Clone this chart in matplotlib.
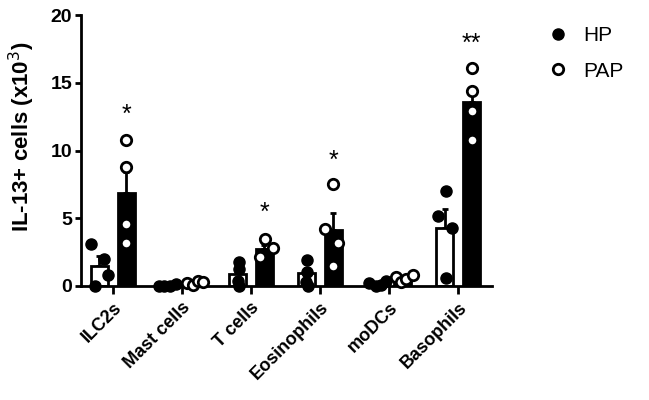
import numpy as np
import matplotlib.pyplot as plt

plt.rcParams['font.family'] = ['Liberation Sans', 'DejaVu Sans']

# Data (values in thousands of cells)
cell_types = ['ILC2s', 'Mast cells', 'T cells', 'Eosinophils', 'moDCs', 'Basophils']

hp_points = [
    [3.1, 0.0, 2.0, 0.8],
    [0.0, 0.0, 0.0, 0.15],
    [1.75, 1.25, 0.4, 0.0],
    [1.9, 1.0, 0.3, 0.0],
    [0.2, 0.0, 0.1, 0.35],
    [7.0, 5.2, 4.3, 0.6],
]
pap_points = [
    [10.8, 8.8, 4.6, 3.2],
    [0.2, 0.1, 0.35, 0.3],
    [3.5, 2.8, 2.15],
    [7.5, 4.2, 3.2, 1.5],
    [0.7, 0.3, 0.55, 0.8],
    [16.1, 14.4, 12.9, 10.8],
]
hp_mean = [1.5, 0.04, 0.85, 0.95, 0.15, 4.3]
hp_sem = [0.7, 0.04, 0.4, 0.4, 0.08, 1.4]
pap_mean = [6.85, 0.25, 2.75, 4.1, 0.55, 13.55]
pap_sem = [1.6, 0.06, 0.3, 1.3, 0.1, 1.1]
stars = ['*', '', '*', '*', '', '**']
star_y = [12.6, 0, 5.4, 9.2, 0, 17.9]

# horizontal scatter of the dots inside each bar (in px of the reference)
hp_jitter_px = [
    [-8, -4, 5, 9],
    [-9, -4, 2, 8],
    [1, 1, 0, 1],
    [0, 0, -1, 1],
    [-7, 0, 5, 10],
    [1, -7, 7, 1],
]
pap_jitter_px = [
    [0, 0, 0, 0],
    [-8, -2, 3, 8],
    [1, 9, -4],
    [0, -8, 5, 0],
    [-7, -2, 3, 10],
    [0, 0, 0, 0],
]
px_per_unit = 69.0

x = np.arange(len(cell_types))
off = 0.195
w = 0.245

fig = plt.figure(figsize=(6.49, 4.0), dpi=100)
ax = fig.add_axes([0.125, 0.285, 0.633, 0.6775])

ax.bar(x - off, hp_mean, width=w, color='white', edgecolor='black', linewidth=2, zorder=2)
ax.bar(x + off, pap_mean, width=w, color='black', edgecolor='black', linewidth=2, zorder=2)
ax.errorbar(x - off, hp_mean, yerr=[np.zeros(len(x)), hp_sem], fmt='none',
            ecolor='black', elinewidth=2, capsize=2.5, capthick=2, zorder=1)
ax.errorbar(x + off, pap_mean, yerr=[np.zeros(len(x)), pap_sem], fmt='none',
            ecolor='black', elinewidth=2, capsize=2.5, capthick=2, zorder=1)

for i in range(len(x)):
    hx = x[i] - off + np.array(hp_jitter_px[i]) / px_per_unit
    px_ = x[i] + off + np.array(pap_jitter_px[i]) / px_per_unit
    ax.plot(hx, hp_points[i], 'o', color='black', markersize=8,
            zorder=3, clip_on=False)
    ax.plot(px_, pap_points[i], 'o', markerfacecolor='white',
            markeredgecolor='black', markeredgewidth=2, markersize=7.5, zorder=3, clip_on=False)
    if stars[i]:
        ax.text(x[i] + off, star_y[i], stars[i], ha='center', va='center', fontsize=18)

# legend
ax.plot([], [], 'o', color='black', markersize=8, label='HP')
ax.plot([], [], 'o', markerfacecolor='white', markeredgecolor='black',
        markeredgewidth=2, markersize=7.5, label='PAP')
fig.legend(loc='upper left', bbox_to_anchor=(548 / 649, 1 - 26 / 400), frameon=False,
           fontsize=15, handletextpad=0.7, labelspacing=0.8, handlelength=1.0,
           borderpad=0, borderaxespad=0)

ax.set_xlim(-0.46, len(x) - 1 + 0.49)
ax.set_ylim(0, 20)
ax.set_yticks([0, 5, 10, 15, 20])
ax.set_xticks(x)
ax.set_xticklabels(cell_types, rotation=45, ha='right', rotation_mode='anchor',
                   fontsize=13, fontweight='bold')
for lab in ax.get_yticklabels():
    lab.set_fontsize(14)
    lab.set_fontweight('bold')
ax.set_ylabel('IL-13+ cells (x10$^3$)', fontsize=16, fontweight='bold')
ax.yaxis.set_label_coords(-0.108, 0.552)
ax.spines['top'].set_visible(False)
ax.spines['right'].set_visible(False)
ax.spines['left'].set_linewidth(2)
ax.spines['bottom'].set_linewidth(2)
ax.tick_params(axis='y', width=2, length=4.5, pad=2)
ax.tick_params(axis='x', width=2, length=6)

fig.savefig('out.png', dpi=100)
